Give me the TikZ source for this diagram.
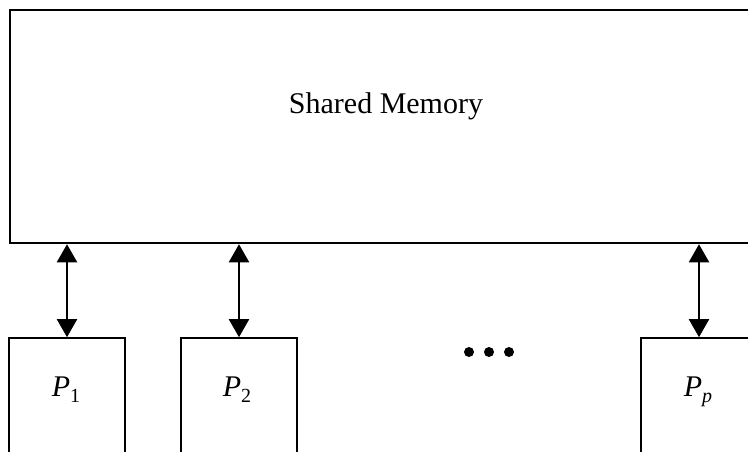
\documentclass[tikz,border=0pt]{standalone}
\usepackage{fontspec}
\setmainfont{Liberation Serif}
\usetikzlibrary{arrows.meta}
\begin{document}
\begin{tikzpicture}[x=1pt,y=-1pt,
  membox/.style={draw, line width=2.5pt, minimum width=760pt, minimum height=233pt, inner sep=0pt},
  procbox/.style={draw, line width=1.6pt, minimum width=116pt, minimum height=142pt, inner sep=0pt},
  lbl/.style={font=\fontsize{30}{36}\selectfont, inner sep=0pt, anchor=base},
  link/.style={line width=2pt, {Triangle[width=20pt,length=18pt]}-{Triangle[width=20pt,length=18pt]}},
  dot/.style={circle, fill, inner sep=0pt, minimum size=10pt}]
\useasboundingbox (0,0) rectangle (748,451);
\clip (0,0) rectangle (748,451);
\node[membox] (mem) at (390,126.5) {};
\node[lbl] (memtxt) at (386,113) {Shared Memory};
\node[procbox] (p1) at (67,409) {};
\node[procbox] (p2) at (239,409) {};
\node[procbox] (pp) at (699,409) {};
\node[lbl] (l1) at (66,396) {\textit{P}\raisebox{-6pt}{\fontsize{20}{20}\selectfont 1}};
\node[lbl] (l2) at (237,396) {\textit{P}\raisebox{-6pt}{\fontsize{20}{20}\selectfont 2}};
\node[lbl] (lp) at (698,396) {\textit{P}\raisebox{-6pt}{\fontsize{20}{20}\selectfont\textit{p}}};
\draw[link] (p1.north |- mem.south) -- (p1.north);
\draw[link] (p2.north |- mem.south) -- (p2.north);
\draw[link] (pp.north |- mem.south) -- (pp.north);
\node[dot] (d1) at (469,352) {};
\node[dot] (d2) at (489,352) {};
\node[dot] (d3) at (509,352) {};
\end{tikzpicture}
\end{document}
